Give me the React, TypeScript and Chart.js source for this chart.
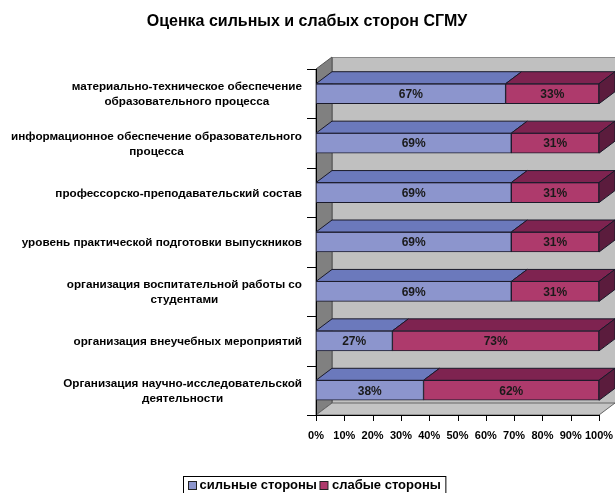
import React, { useEffect, useRef } from "react";
import { Chart, registerables } from "chart.js";

Chart.register(...registerables);

const title = "Оценка сильных и слабых сторон СГМУ";
const categories: string[][] = [
  ["материально-техническое обеспечение", "образовательного процесса"],
  ["информационное обеспечение образовательного", "процесса"],
  ["профессорско-преподавательский состав"],
  ["уровень практической подготовки выпускников"],
  ["организация воспитательной работы со", "студентами"],
  ["организация внеучебных мероприятий"],
  ["Организация научно-исследовательской", "деятельности"],
];
const seriesNames = ["сильные стороны", "слабые стороны"];
const strong = [67, 69, 69, 69, 69, 27, 38];
const weak = [33, 31, 31, 31, 31, 73, 62];
const xTicks = [0, 10, 20, 30, 40, 50, 60, 70, 80, 90, 100];

const FONT = '"Liberation Sans", Arial, sans-serif';
const FRONT = ["#8C95CD", "#AE3A6C"];
const TOP = ["#6B79BC", "#7E2350"];
const SIDE = ["#4E5A9A", "#5B1C3D"];
const DX = 16;
const DY = -12;

const threeD = {
  id: "threeD",
  beforeDatasetsDraw(chart: any) {
    const ctx = chart.ctx;
    const { left, right, top, bottom } = chart.chartArea;
    ctx.save();
    // back wall
    ctx.fillStyle = "#C0C0C0";
    ctx.fillRect(left + DX, top + DY, right - left, bottom - top);
    ctx.strokeStyle = "#8a8a8a";
    ctx.lineWidth = 1;
    ctx.strokeRect(left + DX + 0.5, top + DY + 0.5, right - left, bottom - top);
    // left wall
    ctx.fillStyle = "#808080";
    ctx.beginPath();
    ctx.moveTo(left, top);
    ctx.lineTo(left + DX, top + DY);
    ctx.lineTo(left + DX, bottom + DY);
    ctx.lineTo(left, bottom);
    ctx.closePath();
    ctx.fill();
    ctx.strokeStyle = "#555";
    ctx.stroke();
    // floor
    ctx.fillStyle = "#C4C4C4";
    ctx.beginPath();
    ctx.moveTo(left, bottom);
    ctx.lineTo(right, bottom);
    ctx.lineTo(right + DX, bottom + DY);
    ctx.lineTo(left + DX, bottom + DY);
    ctx.closePath();
    ctx.fill();
    ctx.strokeStyle = "#666";
    ctx.stroke();

    // axes
    ctx.strokeStyle = "#000";
    ctx.lineWidth = 1;
    ctx.beginPath();
    ctx.moveTo(left + 0.5, top);
    ctx.lineTo(left + 0.5, bottom);
    ctx.moveTo(left, bottom + 0.5);
    ctx.lineTo(right, bottom + 0.5);
    ctx.stroke();
    const ys = chart.scales.y;
    const xs = chart.scales.x;
    const n = categories.length;
    const band = (bottom - top) / n;
    ctx.beginPath();
    for (let i = 0; i < n; i++) {
      const c = ys.getPixelForValue(i);
      const b1 = Math.round(c - band / 2) + 0.5;
      ctx.moveTo(left - 9, b1);
      ctx.lineTo(left, b1);
    }
    ctx.moveTo(left - 9, bottom + 0.5);
    ctx.lineTo(left, bottom + 0.5);
    for (const t of xTicks) {
      const x = Math.round(xs.getPixelForValue(t)) + 0.5;
      ctx.moveTo(x, bottom);
      ctx.lineTo(x, bottom + 6);
    }
    ctx.stroke();

    // tick labels
    ctx.fillStyle = "#000";
    ctx.font = `bold 11px ${FONT}`;
    ctx.textBaseline = "middle";
    ctx.textAlign = "center";
    for (const t of xTicks) {
      ctx.fillText(`${t}%`, xs.getPixelForValue(t), bottom + 21);
    }
    ctx.font = `bold 11.7px ${FONT}`;
    for (let i = 0; i < n; i++) {
      const lines = categories[i];
      const c = ys.getPixelForValue(i);
      const maxW = Math.max(...lines.map((l) => ctx.measureText(l).width));
      const cx = 302 - maxW / 2;
      const lh = 15;
      const y0 = c + 1 - ((lines.length - 1) * lh) / 2;
      lines.forEach((l, k) => ctx.fillText(l, cx, y0 + k * lh));
    }

    // title
    ctx.font = `bold 16px ${FONT}`;
    ctx.fillText(title, 307, 22);

    // legend
    ctx.font = `bold 13px ${FONT}`;
    const w1 = ctx.measureText(seriesNames[0]).width;
    const w2 = ctx.measureText(seriesNames[1]).width;
    const sq = 8;
    const total = 5 + sq + 3 + w1 + 3 + sq + 4 + w2 + 5;
    let lx = Math.round(314 - total / 2) + 0.5;
    const ly = 476.5;
    ctx.strokeStyle = "#000";
    ctx.strokeRect(lx, ly, total, 22);
    const cy = 485.5;
    let px = lx + 5;
    ctx.fillStyle = FRONT[0];
    ctx.fillRect(px, cy - 4, sq, sq);
    ctx.strokeStyle = "#222";
    ctx.strokeRect(px, cy - 4, sq, sq);
    px += sq + 3;
    ctx.fillStyle = "#000";
    ctx.textAlign = "left";
    ctx.fillText(seriesNames[0], px, cy);
    px += w1 + 3;
    ctx.fillStyle = FRONT[1];
    ctx.fillRect(px, cy - 4, sq, sq);
    ctx.strokeRect(px, cy - 4, sq, sq);
    px += sq + 4;
    ctx.fillStyle = "#000";
    ctx.fillText(seriesNames[1], px, cy);
    ctx.restore();
  },
  afterDatasetsDraw(chart: any) {
    const ctx = chart.ctx;
    ctx.save();
    ctx.lineWidth = 1;
    ctx.strokeStyle = "#1a1a2a";
    const nd = chart.data.datasets.length;
    for (let d = 0; d < nd; d++) {
      const meta = chart.getDatasetMeta(d);
      meta.data.forEach((el: any, i: number) => {
        const { x, y, base, height } = el.getProps(["x", "y", "base", "height"], true);
        const t = y - height / 2;
        const b = y + height / 2;
        ctx.fillStyle = TOP[d];
        ctx.beginPath();
        ctx.moveTo(base, t);
        ctx.lineTo(x, t);
        ctx.lineTo(x + DX, t + DY);
        ctx.lineTo(base + DX, t + DY);
        ctx.closePath();
        ctx.fill();
        ctx.stroke();
        if (d === nd - 1) {
          ctx.fillStyle = SIDE[d];
          ctx.beginPath();
          ctx.moveTo(x, t);
          ctx.lineTo(x + DX, t + DY);
          ctx.lineTo(x + DX, b + DY);
          ctx.lineTo(x, b);
          ctx.closePath();
          ctx.fill();
          ctx.stroke();
        }
      });
    }
    ctx.fillStyle = "#1a1a1a";
    ctx.font = `bold 12px ${FONT}`;
    ctx.textAlign = "center";
    ctx.textBaseline = "middle";
    for (let d = 0; d < nd; d++) {
      const meta = chart.getDatasetMeta(d);
      meta.data.forEach((el: any, i: number) => {
        const { x, y, base } = el.getProps(["x", "y", "base"], true);
        const v = chart.data.datasets[d].data[i];
        ctx.fillText(`${v}%`, (x + base) / 2, y + 1);
      });
    }
    ctx.restore();
  },
};

export default function App() {
  const ref = useRef<HTMLCanvasElement | null>(null);
  useEffect(() => {
    document.body.style.margin = "0";
    const canvas = ref.current!;
    const chart = new Chart(canvas, {
      type: "bar",
      data: {
        labels: categories.map((c) => c.join(" ")),
        datasets: [
          {
            label: seriesNames[0],
            data: strong,
            backgroundColor: FRONT[0],
            borderColor: "#1a1a2a",
            borderWidth: 1,
            borderSkipped: false,
            barThickness: 20,
          },
          {
            label: seriesNames[1],
            data: weak,
            backgroundColor: FRONT[1],
            borderColor: "#1a1a2a",
            borderWidth: 1,
            borderSkipped: false,
            barThickness: 20,
          },
        ],
      },
      options: {
        animation: false,
        responsive: false,
        indexAxis: "y",
        layout: { padding: { left: 316, right: 16, top: 69, bottom: 78 } },
        scales: {
          x: { stacked: true, min: 0, max: 100, display: false },
          y: { stacked: true, display: false },
        },
        plugins: {
          legend: { display: false },
          title: { display: false },
          tooltip: { enabled: false },
        },
      },
      plugins: [threeD],
    } as any);
    return () => chart.destroy();
  }, []);
  return (
    <canvas
      ref={ref}
      width={615}
      height={493}
      style={{ display: "block", width: 615, height: 493 }}
    />
  );
}
